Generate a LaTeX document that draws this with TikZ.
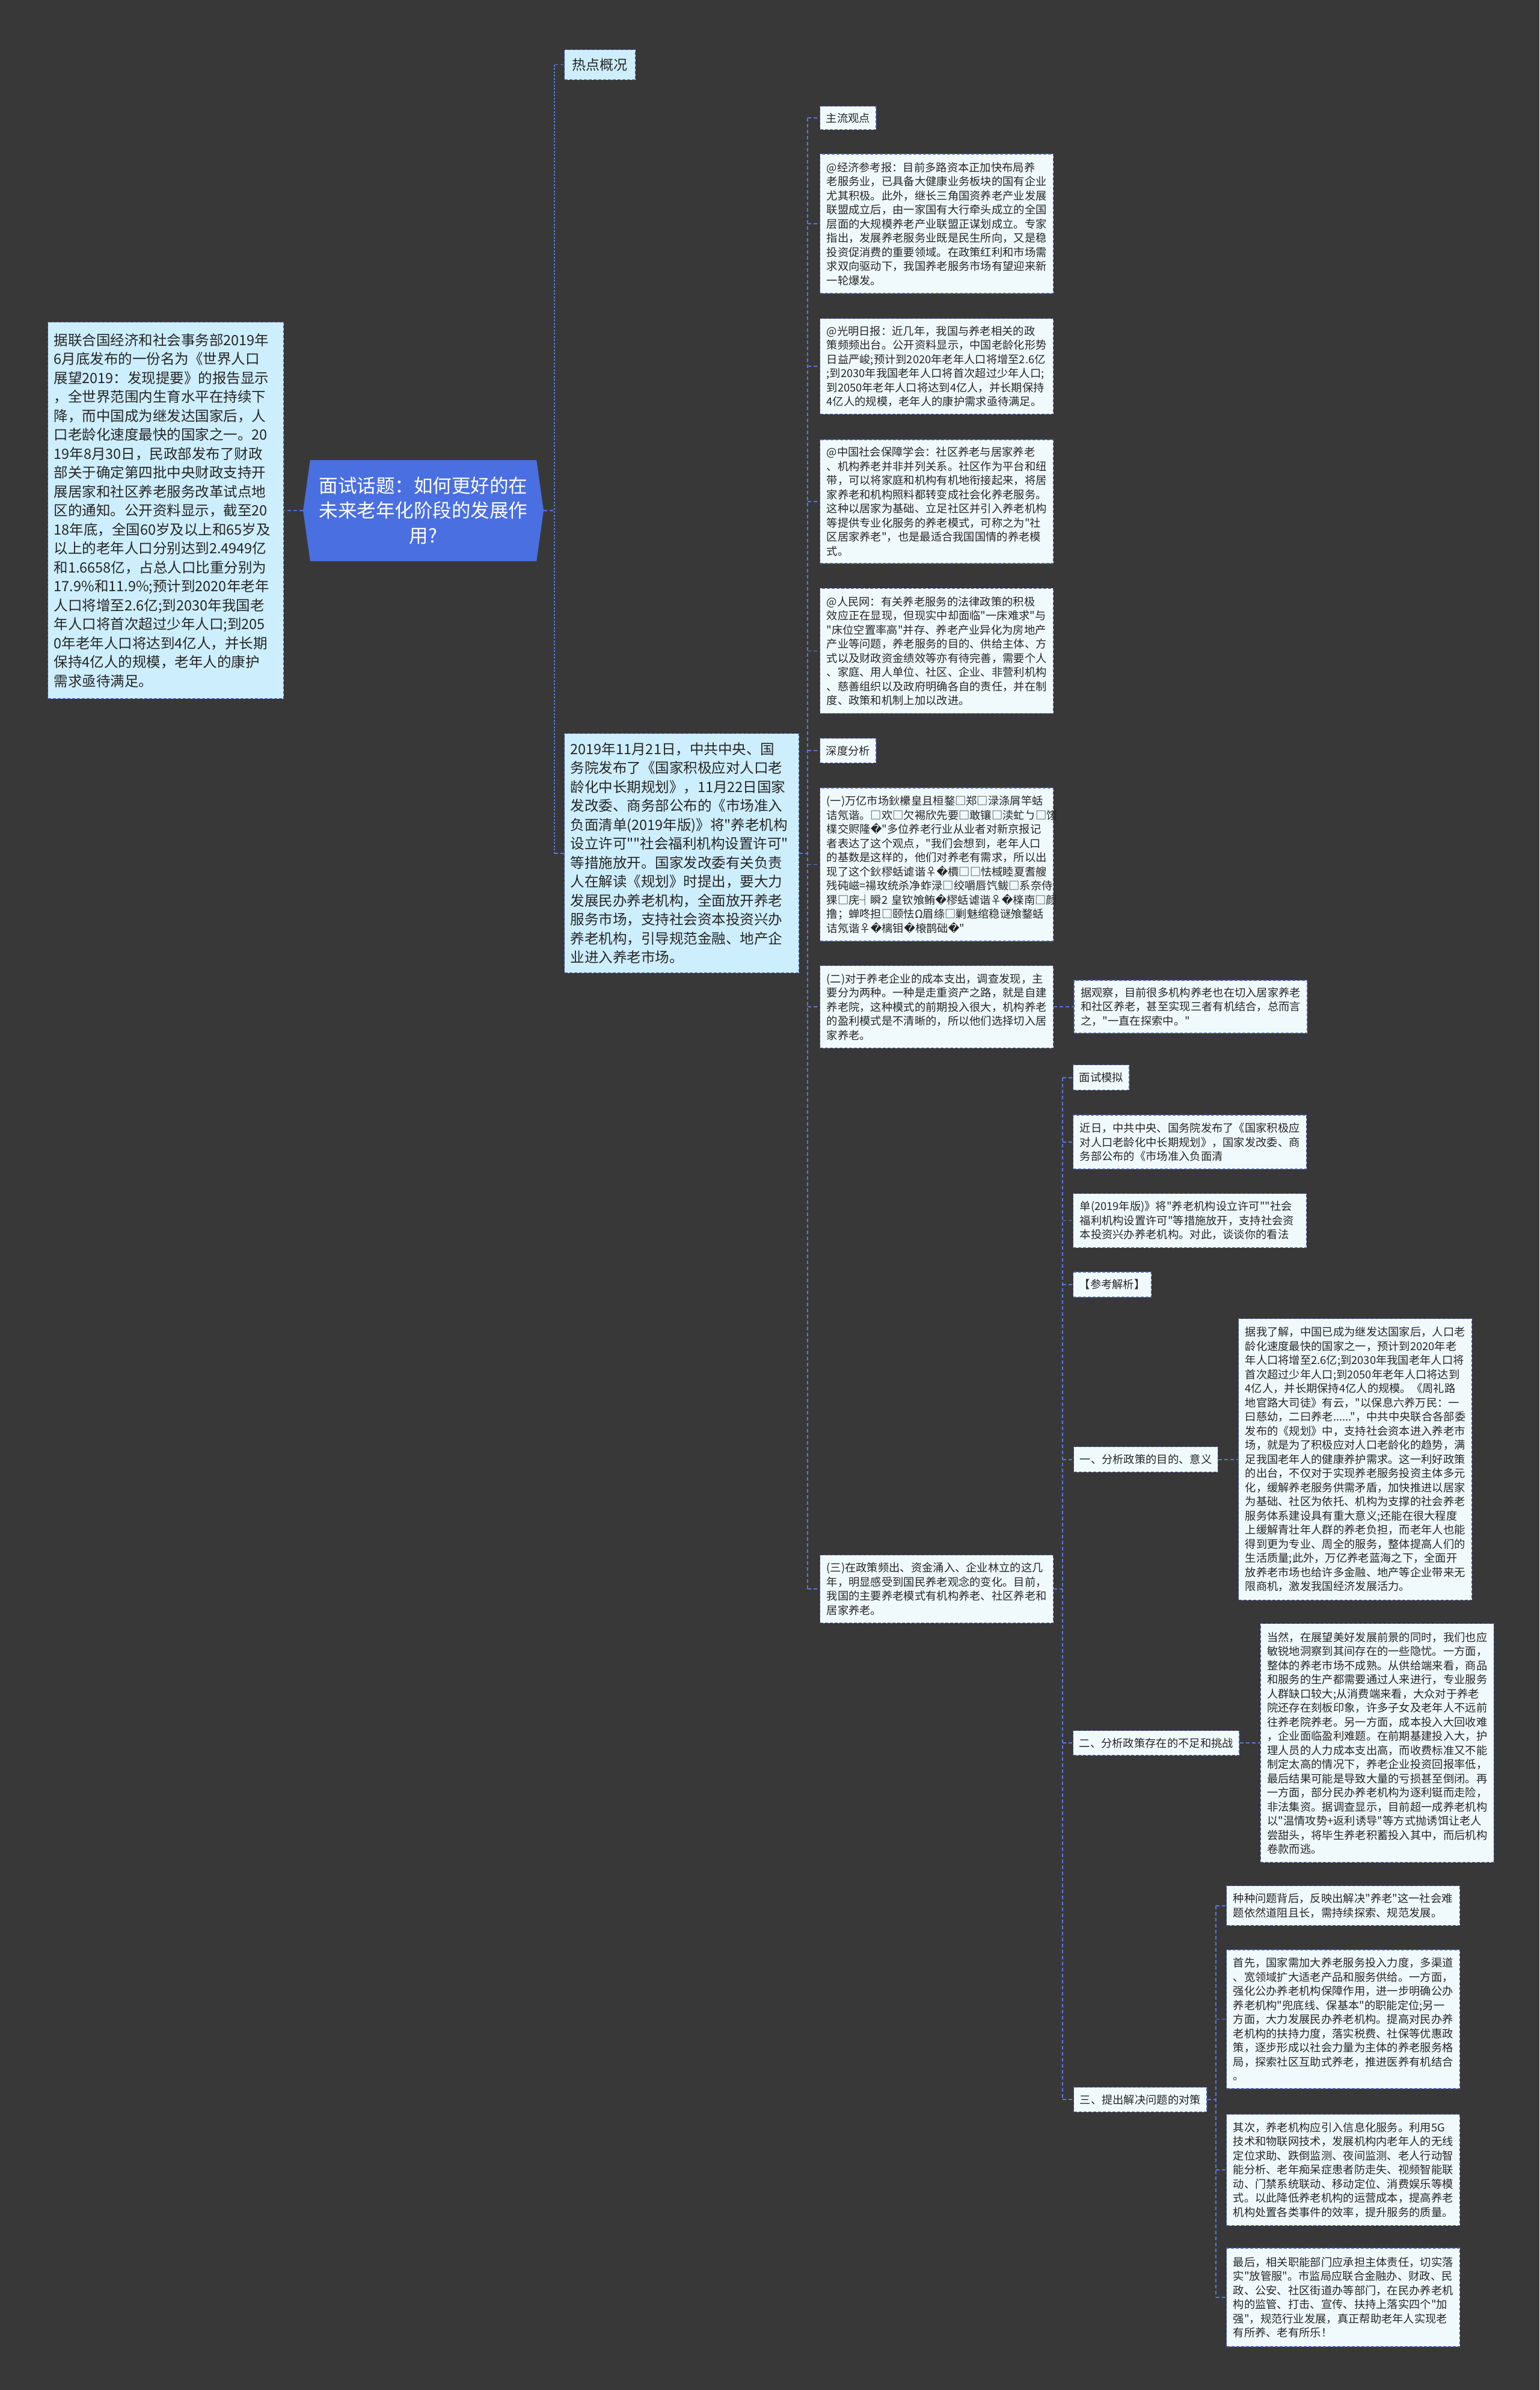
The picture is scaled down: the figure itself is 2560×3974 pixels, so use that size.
\documentclass[tikz,border=0pt]{standalone}
\usepackage{fontspec}
\setmainfont{Noto Sans CJK SC}[Ligatures=TeXOff]
\newfontfamily\repfont{DejaVu Sans}
\usepackage{xcolor}
\usepackage{tikz}
\usetikzlibrary{positioning, shapes.symbols}

\definecolor{bgdark}{RGB}{57,56,57}
\definecolor{skyfill}{RGB}{205,238,252}
\definecolor{palefill}{RGB}{240,250,253}
\definecolor{edgeblue}{RGB}{72,92,170}
\definecolor{linkblue}{RGB}{88,120,220}
\definecolor{topicblue}{RGB}{74,111,224}
\definecolor{inkgray}{RGB}{38,38,38}

\newcommand\rp{{\repfont �}}

\begin{document}
\begin{tikzpicture}[x=1pt, y=-1pt]
        \tikzstyle{topic} = [signal, signal to=west and east, signal pointer angle=164, fill=topicblue, text=white, minimum width=400pt, minimum height=168pt, align=center, inner sep=0pt, font=\fontsize{31.5}{41.7}\selectfont]
        \tikzstyle{sky} = [rectangle, draw=edgeblue, dash pattern=on 5pt off 3pt, line width=1.4pt, fill=skyfill, text=inkgray, inner xsep=10pt, inner ysep=8pt, align=left, font=\fontsize{23.5}{31.5}\selectfont]
        \tikzstyle{card} = [rectangle, draw=edgeblue, dash pattern=on 5pt off 3pt, line width=1.4pt, fill=palefill, text=inkgray, text width=366pt, inner xsep=11pt, inner ysep=8pt, align=left, font=\fontsize{18.3}{23.5}\selectfont]
        \tikzstyle{tag} = [rectangle, draw=edgeblue, dash pattern=on 5pt off 3pt, line width=1.4pt, fill=palefill, text=inkgray, inner xsep=10pt, minimum height=41pt, font=\fontsize{18.3}{22}\selectfont]
        \tikzstyle{link} = [draw=linkblue, line width=1.6pt, dash pattern=on 6pt off 4pt]
        \tikzstyle{trunk} = [draw=linkblue, line width=2.6pt, dash pattern=on 3pt off 2.5pt]

        \fill [bgdark] (0,0) rectangle (2560,3974);
        \useasboundingbox (0,0) rectangle (2560,3974);

        % centre and left side
        \node (topic) [topic] at (704,849) {面试话题：如何更好的在\\未来老年化阶段的发展作\\用?};
        \node (lbox) [sky, text width=372pt, minimum height=626pt, anchor=north west] at (79,535) {据联合国经济和社会事务部2019年\\6月底发布的一份名为《世界人口\\展望2019：发现提要》的报告显示\\，全世界范围内生育水平在持续下\\降，而中国成为继发达国家后，人\\口老龄化速度最快的国家之一。20\\19年8月30日，民政部发布了财政\\部关于确定第四批中央财政支持开\\展居家和社区养老服务改革试点地\\区的通知。公开资料显示，截至20\\18年底，全国60岁及以上和65岁及\\以上的老年人口分别达到2.4949亿\\和1.6658亿，占总人口比重分别为\\17.9\%和11.9\%;预计到2020年老年\\人口将增至2.6亿;到2030年我国老\\年人口将首次超过少年人口;到205\\0年老年人口将达到4亿人，并长期\\保持4亿人的规模，老年人的康护\\需求亟待满足。};

        % first level
        \node (rd) [sky, inner xsep=13pt, minimum height=50pt, font=\fontsize{23}{26}\selectfont, anchor=north west] at (938,82) {热点概况};
        \node (mbox) [sky, text width=370pt, minimum height=398pt, anchor=north west] at (938,1219) {2019年11月21日，中共中央、国\\务院发布了《国家积极应对人口老\\龄化中长期规划》，11月22日国家\\发改委、商务部公布的《市场准入\\负面清单(2019年版)》将"养老机构\\设立许可""社会福利机构设置许可"\\等措施放开。国家发改委有关负责\\人在解读《规划》时提出，要大力\\发展民办养老机构，全面放开养老\\服务市场，支持社会资本投资兴办\\养老机构，引导规范金融、地产企\\业进入养老市场。};

        % second level
        \node (zl) [tag, minimum height=39pt, anchor=north west] at (1363,176) {主流观点};
        \node (jj) [card, minimum height=232pt, below=39pt of zl.south west, anchor=north west] {@经济参考报：目前多路资本正加快布局养\\老服务业，已具备大健康业务板块的国有企业\\尤其积极。此外，继长三角国资养老产业发展\\联盟成立后，由一家国有大行牵头成立的全国\\层面的大规模养老产业联盟正谋划成立。专家\\指出，发展养老服务业既是民生所向，又是稳\\投资促消费的重要领域。在政策红利和市场需\\求双向驱动下，我国养老服务市场有望迎来新\\一轮爆发。};
        \node (gm) [card, minimum height=159pt, below=40pt of jj.south west, anchor=north west] {@光明日报：近几年，我国与养老相关的政\\策频频出台。公开资料显示，中国老龄化形势\\日益严峻;预计到2020年老年人口将增至2.6亿\\;到2030年我国老年人口将首次超过少年人口;\\到2050年老年人口将达到4亿人，并长期保持\\4亿人的规模，老年人的康护需求亟待满足。};
        \node (zs) [card, minimum height=206pt, below=41pt of gm.south west, anchor=north west] {@中国社会保障学会：社区养老与居家养老\\、机构养老并非并列关系。社区作为平台和纽\\带，可以将家庭和机构有机地衔接起来，将居\\家养老和机构照料都转变成社会化养老服务。\\这种以居家为基础、立足社区并引入养老机构\\等提供专业化服务的养老模式，可称之为"社\\区居家养老"，也是最适合我国国情的养老模\\式。};
        \node (rm) [card, minimum height=208pt, below=40pt of zs.south west, anchor=north west] {@人民网：有关养老服务的法律政策的积极\\效应正在显现，但现实中却面临"一床难求"与\\"床位空置率高"并存、养老产业异化为房地产\\产业等问题，养老服务的目的、供给主体、方\\式以及财政资金绩效等亦有待完善，需要个人\\、家庭、用人单位、社区、企业、非营利机构\\、慈善组织以及政府明确各自的责任，并在制\\度、政策和机制上加以改进。};
        \node (sd) [tag, below=40pt of rm.south west, anchor=north west] {深度分析};
        \node (yi) [card, minimum height=255pt, below=40pt of sd.south west, anchor=north west] {(一)万亿市场鈥欙皇且桓鍪□郑□渌涤屑竿蛞\\诘氖谐。□欢□欠裼欣先要□敢镶□渎虻ㄅ□馐\\檏交赆隆\rp{}"多位养老行业从业者对新京报记\\者表达了这个观点，"我们会想到，老年人口\\的基数是这样的，他们对养老有需求，所以出\\现了这个鈥樛蛞谑谐♀\rp{}檟□□怯棫睦夏耆艘\\残砘嵫=禓玫统杀净蚱渌□绞嚼唇饩鲅□系奈侍\\猓□庑┤瞬2~皇钦飧鲔\rp{}樛蛞谑谐♀\rp{}檪南□颜\\撸；蝉咚担□颐怯Ω眉绦□剿魅绾稳谜飧鍪蛞\\诘氖谐♀\rp{}樆钼\rp{}榱鹊础\rp{}"};
        \node (er) [card, minimum height=137pt, below=39pt of yi.south west, anchor=north west] {(二)对于养老企业的成本支出，调查发现，主\\要分为两种。一种是走重资产之路，就是自建\\养老院，这种模式的前期投入很大，机构养老\\的盈利模式是不清晰的，所以他们选择切入居\\家养老。};
        \node (san) [card, minimum height=113pt, anchor=north west] at (1363,2585) {(三)在政策频出、资金涌入、企业林立的这几\\年，明显感受到国民养老观念的变化。目前，\\我国的主要养老模式有机构养老、社区养老和\\居家养老。};

        % third level
        \node (gc) [card, minimum height=88pt, right=33pt of er] {据观察，目前很多机构养老也在切入居家养老\\和社区养老，甚至实现三者有机结合，总而言\\之，"一直在探索中。"};
        \node (ms) [tag, minimum height=42pt, anchor=north west] at (1784,1770) {面试模拟};
        \node (jr) [card, minimum height=90pt, below=40pt of ms.south west, anchor=north west] {近日，中共中央、国务院发布了《国家积极应\\对人口老龄化中长期规划》，国家发改委、商\\务部公布的《市场准入负面清};
        \node (dan) [card, minimum height=90pt, below=39pt of jr.south west, anchor=north west] {单(2019年版)》将"养老机构设立许可""社会\\福利机构设置许可"等措施放开，支持社会资\\本投资兴办养老机构。对此，谈谈你的看法};
        \node (ck) [tag, minimum height=42pt, below=39pt of dan.south west, anchor=north west] {【参考解析】};
        \node (t1) [tag, minimum height=42pt, anchor=north west] at (1785,2405) {一、分析政策的目的、意义};
        \node (t2) [tag, anchor=north west] at (1784,2877) {二、分析政策存在的不足和挑战};
        \node (t3) [tag, anchor=north west] at (1785,3470) {三、提出解决问题的对策};

        % fourth level
        \node (lj) [card, minimum height=468pt, right=33pt of t1] {据我了解，中国已成为继发达国家后，人口老\\龄化速度最快的国家之一，预计到2020年老\\年人口将增至2.6亿;到2030年我国老年人口将\\首次超过少年人口;到2050年老年人口将达到\\4亿人，并长期保持4亿人的规模。《周礼路\\地官路大司徒》有云，"以保息六养万民：一\\曰慈幼，二曰养老......"，中共中央联合各部委\\发布的《规划》中，支持社会资本进入养老市\\场，就是为了积极应对人口老龄化的趋势，满\\足我国老年人的健康养护需求。这一利好政策\\的出台，不仅对于实现养老服务投资主体多元\\化，缓解养老服务供需矛盾，加快推进以居家\\为基础、社区为依托、机构为支撑的社会养老\\服务体系建设具有重大意义;还能在很大程度\\上缓解青壮年人群的养老负担，而老年人也能\\得到更为专业、周全的服务，整体提高人们的\\生活质量;此外，万亿养老蓝海之下，全面开\\放养老市场也给许多金融、地产等企业带来无\\限商机，激发我国经济发展活力。};
        \node (dr) [card, minimum height=397pt, right=34pt of t2] {当然，在展望美好发展前景的同时，我们也应\\敏锐地洞察到其间存在的一些隐忧。一方面，\\整体的养老市场不成熟。从供给端来看，商品\\和服务的生产都需要通过人来进行，专业服务\\人群缺口较大;从消费端来看，大众对于养老\\院还存在刻板印象，许多子女及老年人不远前\\往养老院养老。另一方面，成本投入大回收难\\，企业面临盈利难题。在前期基建投入大，护\\理人员的人力成本支出高，而收费标准又不能\\制定太高的情况下，养老企业投资回报率低，\\最后结果可能是导致大量的亏损甚至倒闭。再\\一方面，部分民办养老机构为逐利铤而走险，\\非法集资。据调查显示，目前超一成养老机构\\以"温情攻势+返利诱导"等方式抛诱饵让老人\\尝甜头，将毕生养老积蓄投入其中，而后机构\\卷款而逃。};
        \node (zz) [card, minimum height=66pt, anchor=north west] at (2039,3135) {种种问题背后，反映出解决"养老"这一社会难\\题依然道阻且长，需持续探索、规范发展。};
        \node (sx) [card, minimum height=231pt, below=39pt of zz.south west, anchor=north west] {首先，国家需加大养老服务投入力度，多渠道\\、宽领域扩大适老产品和服务供给。一方面，\\强化公办养老机构保障作用，进一步明确公办\\养老机构"兜底线、保基本"的职能定位;另一\\方面，大力发展民办养老机构。提高对民办养\\老机构的扶持力度，落实税费、社保等优惠政\\策，逐步形成以社会力量为主体的养老服务格\\局，探索社区互助式养老，推进医养有机结合\\。};
        \node (qc) [card, minimum height=185pt, below=41pt of sx.south west, anchor=north west] {其次，养老机构应引入信息化服务。利用5G\\技术和物联网技术，发展机构内老年人的无线\\定位求助、跌倒监测、夜间监测、老人行动智\\能分析、老年痴呆症患者防走失、视频智能联\\动、门禁系统联动、移动定位、消费娱乐等模\\式。以此降低养老机构的运营成本，提高养老\\机构处置各类事件的效率，提升服务的质量。};
        \node (zh) [card, minimum height=164pt, below=36pt of qc.south west, anchor=north west] {最后，相关职能部门应承担主体责任，切实落\\实"放管服"。市监局应联合金融办、财政、民\\政、公安、社区街道办等部门，在民办养老机\\构的监管、打击、宣传、扶持上落实四个"加\\强"，规范行业发展，真正帮助老年人实现老\\有所养、老有所乐！};

        % connectors
        \coordinate (s1) at (922,849);
        \coordinate (s2) at (1343,0);
        \coordinate (s3) at (1767,0);
        \coordinate (s4) at (2022,0);

        \draw [link] (topic.west) -- (lbox.east);
        \draw [link] (topic.east) -- (s1);
        \draw [trunk] (s1 |- rd.west) -- (s1 |- mbox.west);
        \draw [link] (s1 |- rd.west) -- (rd.west);
        \draw [link] (s1 |- mbox.west) -- (mbox.west);

        \draw [link] (mbox.east) -- (s2 |- mbox.east);
        \draw [link] (s2 |- zl.west) -- (s2 |- san.west);
        \draw [link] (s2 |- zl.west) -- (zl.west);
        \draw [link] (s2 |- jj.west) -- (jj.west);
        \draw [link] (s2 |- gm.west) -- (gm.west);
        \draw [link] (s2 |- zs.west) -- (zs.west);
        \draw [link] (s2 |- rm.west) -- (rm.west);
        \draw [link] (s2 |- sd.west) -- (sd.west);
        \draw [link] (s2 |- yi.west) -- (yi.west);
        \draw [link] (s2 |- er.west) -- (er.west);
        \draw [link] (s2 |- san.west) -- (san.west);

        \draw [link] (er.east) -- (gc.west);
        \draw [link] (san.east) -- (s3 |- san.east);
        \draw [link] (s3 |- ms.west) -- (s3 |- t3.west);
        \draw [link] (s3 |- ms.west) -- (ms.west);
        \draw [link] (s3 |- jr.west) -- (jr.west);
        \draw [link] (s3 |- dan.west) -- (dan.west);
        \draw [link] (s3 |- ck.west) -- (ck.west);
        \draw [link] (s3 |- t1.west) -- (t1.west);
        \draw [link] (s3 |- t2.west) -- (t2.west);
        \draw [link] (s3 |- t3.west) -- (t3.west);

        \draw [link] (t1.east) -- (lj.west);
        \draw [link] (t2.east) -- (dr.west);
        \draw [link] (t3.east) -- (s4 |- t3.east);
        \draw [link] (s4 |- zz.west) -- (s4 |- zh.west);
        \draw [link] (s4 |- zz.west) -- (zz.west);
        \draw [link] (s4 |- sx.west) -- (sx.west);
        \draw [link] (s4 |- qc.west) -- (qc.west);
        \draw [link] (s4 |- zh.west) -- (zh.west);
    \end{tikzpicture}
\end{document}
